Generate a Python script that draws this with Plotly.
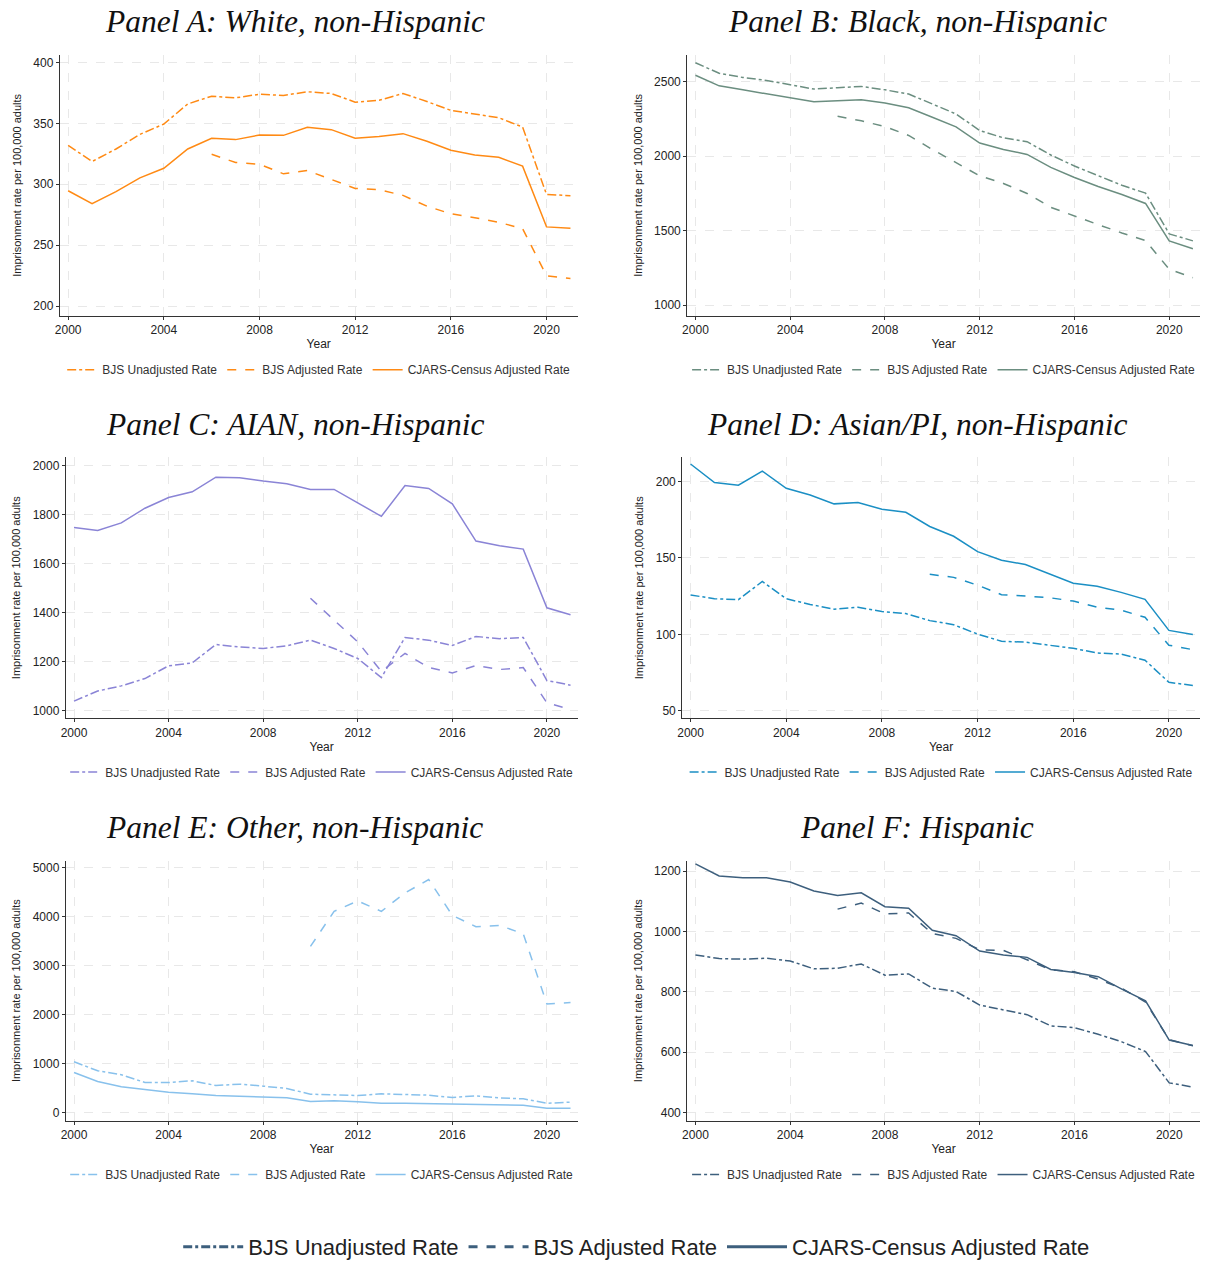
import plotly.graph_objects as go

years = list(range(2000, 2022))
years_06 = list(range(2006, 2022))
years_10 = list(range(2010, 2022))

# Panel A: White, non-Hispanic
a_unadj = [332, 318.7, 329, 341, 349.5, 366, 372.4, 371, 374, 373, 376, 374.6, 367.5, 369, 374.6, 368, 360.7, 357.7, 354.7, 347, 291.7, 290.6]
a_adj = [324.7, 317.9, 316.5, 308.6, 311.3, 303.7, 296.6, 295.5, 290.9, 282, 275.8, 272.6, 268.8, 263.6, 224.8, 222.6]
a_cjars = [294.7, 284, 294, 305.3, 313.2, 329, 337.8, 336.7, 340.5, 340.2, 346.8, 344.9, 337.8, 339.2, 341.6, 335.3, 328, 324.1, 322.2, 314.9, 265, 263.8]

# Panel B: Black, non-Hispanic
b_unadj = [2626, 2555, 2527, 2507, 2478, 2449, 2458, 2467, 2444, 2416, 2349, 2282, 2171, 2122, 2096, 2007, 1933, 1867, 1804, 1751, 1478, 1431]
b_adj = [2267, 2236, 2198, 2138, 2044, 1956, 1867, 1816, 1749, 1656, 1596, 1540, 1484, 1433, 1240, 1184]
b_cjars = [2542, 2471, 2444, 2418, 2391, 2364, 2371, 2378, 2356, 2324, 2260, 2196, 2087, 2044, 2011, 1924, 1856, 1796, 1742, 1682, 1431, 1378]

# Panel C: AIAN, non-Hispanic
c_unadj = [1038, 1079, 1100, 1130, 1182, 1194, 1269, 1259, 1253, 1264, 1287, 1253, 1212, 1134, 1298, 1287, 1265, 1302, 1293, 1298, 1122, 1103]
c_adj = [1458, 1371, 1280, 1159, 1233, 1175, 1153, 1183, 1167, 1175, 1031, 1004]
c_cjars = [1747, 1735, 1766, 1826, 1870, 1893, 1953, 1951, 1937, 1926, 1903, 1903, 1848, 1793, 1919, 1907, 1844, 1692, 1673, 1659, 1419, 1391]

# Panel D: Asian/PI, non-Hispanic
d_unadj = [125.8, 123.3, 122.7, 134.6, 123.3, 119.6, 116.5, 117.8, 115, 113.6, 109, 106.3, 100.2, 95.5, 94.9, 92.9, 90.9, 87.8, 87.1, 83.1, 68.6, 66.6]
d_adj = [139.3, 137.3, 132.2, 126, 125.1, 124, 121.8, 117.8, 115.8, 111.2, 92.9, 90]
d_cjars = [211.5, 199.3, 197.6, 206.8, 195.6, 191.2, 185.4, 186.3, 181.9, 179.9, 170.6, 164.2, 154.1, 148.5, 145.7, 139.5, 133.5, 131.5, 127.5, 122.9, 102.6, 99.9]

# Panel E: Other, non-Hispanic
e_unadj = [1038, 854, 772, 615, 615, 649, 553, 581, 540, 492, 376, 355, 348, 383, 376, 355, 307, 342, 301, 280, 191, 212]
e_adj = [3395, 4112, 4324, 4112, 4488, 4761, 4030, 3798, 3825, 3654, 2220, 2247]
e_cjars = [820, 635, 526, 464, 417, 383, 348, 335, 314, 301, 225, 239, 219, 191, 191, 184, 164, 157, 164, 150, 89, 89]

# Panel F: Hispanic
f_unadj = [922, 910, 908, 911, 902, 876, 878, 892, 855, 859, 812, 801, 756, 740, 724, 687, 681, 659, 634, 602, 498, 484]
f_adj = [1074, 1094, 1058, 1061, 993, 977, 939, 937, 906, 873, 866, 842, 811, 766, 641, 621]
f_cjars = [1224, 1184, 1178, 1178, 1164, 1134, 1119, 1128, 1082, 1077, 1004, 986, 935, 922, 914, 874, 864, 850, 809, 770, 640, 622]

series_names = ["BJS Unadjusted Rate", "BJS Adjusted Rate", "CJARS-Census Adjusted Rate"]

W, H = 1205, 1268

panels = [
    dict(title="Panel A: White, non-Hispanic", color="#FF8A14",
         unadj=a_unadj, adj=a_adj, adj_x=years_06, cj=a_cjars,
         yr=[191.8, 406.5], yt=[200, 250, 300, 350, 400],
         px=(55, 575), py=(55, 318), tx=291),
    dict(title="Panel B: Black, non-Hispanic", color="#6B8E80",
         unadj=b_unadj, adj=b_adj, adj_x=years_06, cj=b_cjars,
         yr=[927, 2680], yt=[1000, 1500, 2000, 2500],
         px=(685, 1200), py=(55, 318), tx=916),
    dict(title="Panel C: AIAN, non-Hispanic", color="#8A84D6",
         unadj=c_unadj, adj=c_adj, adj_x=years_10, cj=c_cjars,
         yr=[967, 2035], yt=[1000, 1200, 1400, 1600, 1800, 2000],
         px=(61, 575), py=(460, 723), tx=291),
    dict(title="Panel D: Asian/PI, non-Hispanic", color="#1B8FC4",
         unadj=d_unadj, adj=d_adj, adj_x=years_10, cj=d_cjars,
         yr=[45, 216], yt=[50, 100, 150, 200],
         px=(680, 1200), py=(460, 723), tx=916),
    dict(title="Panel E: Other, non-Hispanic", color="#88C1EC",
         unadj=e_unadj, adj=e_adj, adj_x=years_10, cj=e_cjars,
         yr=[-170, 5150], yt=[0, 1000, 2000, 3000, 4000, 5000],
         px=(61, 575), py=(866, 1128), tx=291),
    dict(title="Panel F: Hispanic", color="#3D5F7D",
         unadj=f_unadj, adj=f_adj, adj_x=years_06, cj=f_cjars,
         yr=[372, 1235], yt=[400, 600, 800, 1000, 1200],
         px=(685, 1200), py=(866, 1128), tx=916),
]

fig = go.Figure()
annotations = []
layout = {}
FONT = "Liberation Sans, Arial"

for i, p in enumerate(panels):
    n = i + 1
    xa = "xaxis" if n == 1 else f"xaxis{n}"
    ya = "yaxis" if n == 1 else f"yaxis{n}"
    xr = "x" if n == 1 else f"x{n}"
    yr_ = "y" if n == 1 else f"y{n}"
    leg = "legend" if n == 1 else f"legend{n}"
    x0, x1 = p["px"]
    y0, y1 = p["py"]
    dom_x = [x0 / W, x1 / W]
    dom_y = [1 - y1 / H, 1 - y0 / H]
    c = p["color"]
    fig.add_trace(go.Scatter(x=years, y=p["unadj"], mode="lines", name=series_names[0],
                             line=dict(color=c, width=1.5, dash="dashdot"),
                             xaxis=xr, yaxis=yr_, legend=leg))
    fig.add_trace(go.Scatter(x=p["adj_x"], y=p["adj"], mode="lines", name=series_names[1],
                             line=dict(color=c, width=1.5, dash="dash"),
                             xaxis=xr, yaxis=yr_, legend=leg))
    fig.add_trace(go.Scatter(x=years, y=p["cj"], mode="lines", name=series_names[2],
                             line=dict(color=c, width=1.5),
                             xaxis=xr, yaxis=yr_, legend=leg))
    layout[xa] = dict(domain=dom_x, anchor=yr_, range=[1999.65, 2021.3],
                      tickvals=[2000, 2004, 2008, 2012, 2016, 2020],
                      showline=True, linecolor="#333333", linewidth=1,
                      ticks="outside", ticklen=3, tickcolor="#333333",
                      showgrid=True, gridcolor="#e8e8e8", griddash="dash", gridwidth=1,
                      zeroline=False,
                      tickfont=dict(family=FONT, size=12, color="#222"),
                      title=dict(text="Year", font=dict(family=FONT, size=12, color="#222"),
                                 standoff=3))
    layout[ya] = dict(domain=dom_y, anchor=xr, range=p["yr"], tickvals=p["yt"],
                      showline=True, linecolor="#333333", linewidth=1,
                      ticks="outside", ticklen=3, tickcolor="#333333",
                      showgrid=True, gridcolor="#e8e8e8", griddash="dash", gridwidth=1,
                      zeroline=False,
                      tickfont=dict(family=FONT, size=12, color="#222"),
                      title=dict(text="Imprisonment rate per 100,000 adults",
                                 font=dict(family=FONT, size=11, color="#222"),
                                 standoff=9))
    layout[leg] = dict(orientation="h", x=(x0 + x1) / 2 / W, xanchor="center",
                       y=1 - (y1 + 54) / H, yanchor="middle",
                       font=dict(family=FONT, size=12, color="#333"),
                       itemwidth=30, bgcolor="rgba(0,0,0,0)", tracegroupgap=0)
    annotations.append(dict(text=p["title"], x=p["tx"] / W, xref="paper", xanchor="center",
                            y=1 - (y0 - 33) / H, yref="paper", yanchor="middle",
                            showarrow=False,
                            font=dict(family="Liberation Serif, Times New Roman, serif",
                                      size=31.5, color="#111", style="italic")))

# Global bottom legend (styled with Panel F colour)
gcol = "#3D5F7D"
for name, dash in zip(series_names, ["dashdot", "dash", "solid"]):
    fig.add_trace(go.Scatter(x=[None], y=[None], mode="lines", name=name,
                             line=dict(color=gcol, width=3, dash=dash),
                             xaxis="x6", yaxis="y6", legend="legend7"))
layout["legend7"] = dict(orientation="h", x=0.526, xanchor="center", y=1 - 1255 / H, yanchor="middle",
                         font=dict(family=FONT, size=22, color="#222"),
                         itemwidth=60, bgcolor="rgba(0,0,0,0)")

fig.update_layout(width=W, height=H, margin=dict(l=0, r=0, t=0, b=0),
                  plot_bgcolor="white", paper_bgcolor="white",
                  annotations=annotations, **layout)

fig.write_html("out.html")
